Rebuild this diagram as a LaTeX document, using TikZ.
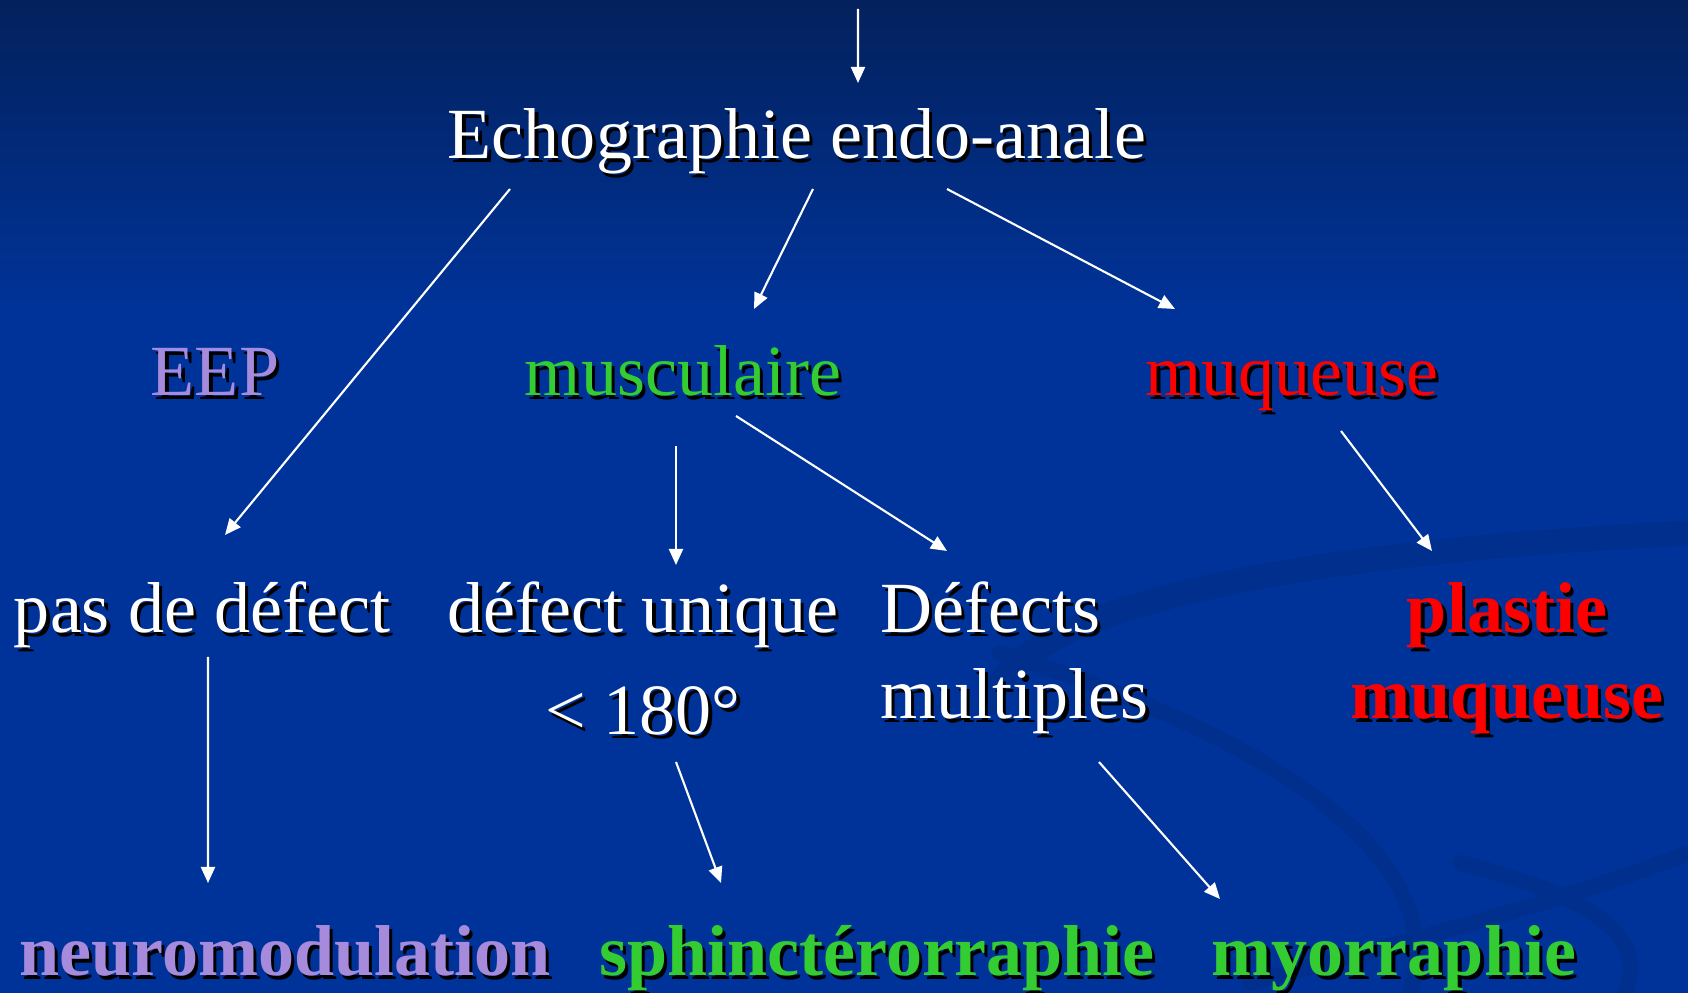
\documentclass[tikz,border=0pt]{standalone}
\usepackage{fontspec}
\setmainfont{Liberation Serif}
\usepackage{xcolor}
\usepackage{tikz}
\usetikzlibrary{
  arrows.meta,
  positioning
}
\definecolor{ecTop}{HTML}{03215C}
\definecolor{ecBlue}{HTML}{003399}
\definecolor{ecSwoosh}{HTML}{002F8E}
\definecolor{ecLav}{HTML}{A68ADB}
\definecolor{ecGreen}{HTML}{33CC33}
\definecolor{ecRed}{HTML}{FF0000}
\newcommand{\ecsh}[1]{\makebox[0pt][l]{\hspace{0.9pt}\raisebox{-0.9pt}{\textcolor{black}{#1}}}#1}
\tikzset{
  ecnode/.style={inner sep=0pt, anchor=base, font=\fontsize{20.5}{25}\selectfont},
  plain/.style={ecnode, text=white},
  lav/.style={ecnode, text=ecLav},
  grn/.style={ecnode, text=ecGreen},
  red/.style={ecnode, text=ecRed},
  strong/.style={font=\fontsize{20.5}{25}\selectfont\bfseries},
  ecarrow/.style={-{Triangle[length=1.6mm, width=1.4mm]}, line width=0.6pt, white},
  swoosh/.style={line width=2.5mm, ecSwoosh, line cap=round}
}

\begin{document}
\begin{tikzpicture}
  \useasboundingbox (0,0) rectangle (16.88,9.93);
  \fill[ecBlue] (0,0) rectangle (16.88,9.93);
  \shade[top color=ecTop, bottom color=ecBlue] (0,6.8) rectangle (16.88,9.93);
  \begin{scope}
    \clip (0,0) rectangle (16.88,9.93);
    \draw[swoosh] (9.9,2.9) .. controls (10.2,3.9) and (13.0,4.4) .. (16.88,4.6);
    \draw[swoosh, line width=1.6mm] (10.0,3.4) .. controls (12.0,2.8) and (14.6,1.6) .. (14.1,0);
    \draw[swoosh, line width=1.6mm] (14.6,1.3) .. controls (15.8,1.0) and (16.6,0.6) .. (16.2,-0.1);
    \draw[swoosh, line width=1.6mm] (12.5,0.1) .. controls (14.0,0.5) and (15.6,0.9) .. (16.88,1.4);
  \end{scope}

  \coordinate (entry) at (8.58,9.84);
  \node[plain] (echo) at (7.97,8.34) {\ecsh{Echographie endo-anale}};
  \node[lav] (eep) at (2.15,5.97) {\ecsh{EEP}};
  \node[grn] (musc) at (6.83,5.97) {\ecsh{musculaire}};
  \node[red] (muq) at (12.92,5.97) {\ecsh{muqueuse}};
  \node[plain] (pas) at (2.02,3.60) {\ecsh{pas de défect}};
  \node[plain] (unique) at (6.43,3.60) {\ecsh{défect unique}};
  \node[plain] (deg) at (6.43,2.58) {\ecsh{< 180°}};
  \node[plain, anchor=base west] (defects) at (8.80,3.60) {\ecsh{Défects}};
  \node[plain, anchor=base west] (multi) at (8.80,2.74) {\ecsh{multiples}};
  \node[red, strong] (plastie) at (15.07,3.60) {\ecsh{plastie}};
  \node[red, strong] (plmuq) at (15.07,2.74) {\ecsh{muqueuse}};
  \node[lav, strong] (neuro) at (2.85,0.17) {\ecsh{neuromodulation}};
  \node[grn, strong] (sphinc) at (8.77,0.17) {\ecsh{sphinctérorraphie}};
  \node[grn, strong] (myo) at (13.94,0.17) {\ecsh{myorraphie}};

  \draw[ecarrow] (entry) -- ([shift={(0.61,0.76)}]echo.base);
  \draw[ecarrow] ([shift={(-2.87,-0.30)}]echo.base) -- ([shift={(0.23,0.98)}]pas.base);
  \draw[ecarrow] ([shift={(0.16,-0.30)}]echo.base) -- ([shift={(0.71,0.87)}]musc.base);
  \draw[ecarrow] ([shift={(1.50,-0.30)}]echo.base) -- ([shift={(-1.17,0.87)}]muq.base);
  \draw[ecarrow] ([shift={(-0.07,-0.50)}]musc.base) -- ([shift={(0.33,0.68)}]unique.base);
  \draw[ecarrow] ([shift={(0.53,-0.20)}]musc.base) -- ([shift={(0.67,0.82)}]defects.base west);
  \draw[ecarrow] ([shift={(0.49,-0.35)}]muq.base) -- ([shift={(-0.75,0.82)}]plastie.base);
  \draw[ecarrow] ([shift={(0.06,-0.24)}]pas.base) -- ([shift={(-0.77,0.93)}]neuro.base);
  \draw[ecarrow] ([shift={(0.33,-0.27)}]deg.base) -- ([shift={(-1.56,0.93)}]sphinc.base);
  \draw[ecarrow] ([shift={(2.19,-0.43)}]multi.base west) -- ([shift={(-1.74,0.77)}]myo.base);
\end{tikzpicture}
\end{document}
